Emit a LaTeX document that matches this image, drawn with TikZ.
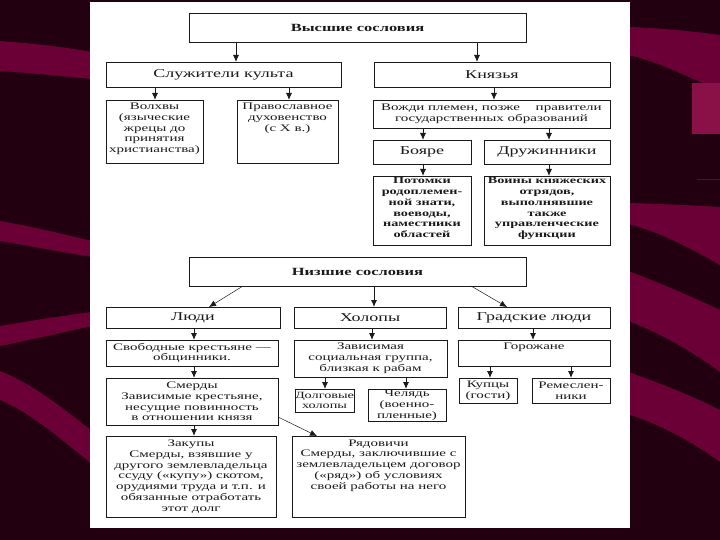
\documentclass[tikz,border=0pt]{standalone}
\usepackage{fontspec}
\setmainfont{Liberation Serif}[FakeStretch=1.5]
\usetikzlibrary{arrows.meta}
\definecolor{bgdark}{HTML}{230010}
\definecolor{bgpink}{HTML}{6B0036}
\definecolor{bgpinklt}{HTML}{8A1048}
\definecolor{ink}{HTML}{1A1A1A}
\newcommand\tb[5][t]{\parbox[c][#3][#1]{#2}{\centering\vspace*{#4}#5\par}}
\tikzset{
 bx/.style={draw=ink, line width=0.9pt, inner sep=0pt, outer sep=0pt, anchor=north west, text=ink},
 big/.style={font=\fontsize{12}{13}\selectfont},
 hd/.style={font=\bfseries\fontsize{11}{13}\selectfont},
 sm/.style={font=\fontsize{10}{10.8}\selectfont},
 tiny/.style={font=\fontsize{9.5}{10.5}\selectfont},
 smb/.style={font=\bfseries\fontsize{9.5}{10.8}\selectfont},
 arr/.style={draw=ink, line width=0.9pt, -{Latex[length=7pt,width=6pt]}},
 tarr/.style={draw=ink, line width=0.5pt, -{Latex[length=7pt,width=6pt]}},
}
\begin{document}
\begin{tikzpicture}[x=1pt,y=-1pt]
\useasboundingbox (0,0) rectangle (720,540);
% background
\fill[bgdark] (0,0) rectangle (720,540);
\fill[bgpink] (0,41) .. controls (40,44) and (70,48) .. (92,52) -- (92,79) .. controls (60,76) and (30,73) .. (0,71) -- cycle;
\fill[bgpink] (0,221) .. controls (40,228) and (70,236) .. (92,241) -- (92,257) .. controls (60,252) and (30,246) .. (0,241) -- cycle;
\fill[bgpink] (0,326) .. controls (30,321) and (60,316) .. (92,312) -- (92,326) .. controls (60,333) and (30,340) .. (0,346) -- cycle;
\fill[bgpink] (0,371) .. controls (35,385) and (65,410) .. (92,431) -- (92,464) .. controls (65,443) and (35,415) .. (0,400) -- cycle;
\fill[bgpink] (628,27) .. controls (660,28) and (690,31) .. (720,35) -- (720,91) .. controls (690,78) and (660,62) .. (628,55) -- cycle;
\fill[bgpinklt] (692,83) rectangle (720,134);
\draw[bgpink, line width=0.8pt] (697,179) -- (720,179);
\fill[bgpink] (628,203) .. controls (660,204) and (690,205) .. (720,207) -- (720,265) .. controls (690,248) and (660,232) .. (628,224) -- cycle;
\fill[bgpink] (628,271) .. controls (660,283) and (690,296) .. (720,310) -- (720,372) .. controls (690,350) and (660,333) .. (628,321) -- cycle;
\fill[bgpink] (628,372) .. controls (660,383) and (690,395) .. (720,410) -- (720,462) .. controls (690,440) and (660,425) .. (628,414) -- cycle;
\fill[white] (90,2) rectangle (630,528);

% boxes
\node[bx,hd] (vs) at (189,13) {\tb[c]{337pt}{29pt}{0pt}{Высшие сословия}};
\node[bx,big] (sk) at (106,62) {\tb[c]{235pt}{25pt}{0pt}{Служители культа}};
\node[bx,big] (kn) at (374,62) {\tb[c]{236pt}{25pt}{0pt}{Князья}};
\node[bx,sm] (vol) at (106,100) {\tb{97pt}{63pt}{3pt}{Волхвы\\(языческие\\жрецы до\\принятия\\христианства)}};
\node[bx,sm] (prav) at (237,100) {\tb{101pt}{63pt}{3pt}{Православное\\духовенство\\(с X в.)}};
\node[bx,sm] (vozh) at (373,100) {\tb[c]{237pt}{28pt}{0pt}{Вожди племен, позже\hspace{1.2em} правители\\государственных образований}};
\node[bx,big] (boy) at (373,140) {\tb[c]{98pt}{24pt}{0pt}{Бояре}};
\node[bx,big] (dru) at (484,140) {\tb[c]{126pt}{24pt}{0pt}{Дружинники}};
\node[bx,smb] (pot) at (373,176) {\tb{98pt}{69pt}{1.5pt}{Потомки\\родоплемен-\\ной знати,\\воеводы,\\наместники\\областей}};
\node[bx,smb] (voi) at (484,176) {\tb{126pt}{69pt}{1.5pt}{Воины княжеских\\отрядов,\\выполнявшие\\также\\управленческие\\функции}};

\node[bx,hd] (nz) at (189,257) {\tb[c]{337pt}{29pt}{0pt}{Низшие сословия}};
\node[bx,big] (lyu) at (106,307) {\tb[c]{174pt}{21pt}{0pt}{Люди}};
\node[bx,big] (hol) at (294,307) {\tb[c]{152pt}{21pt}{0pt}{Холопы}};
\node[bx,big] (grad) at (458,307) {\tb[c]{152pt}{21pt}{0pt}{Градские люди}};
\node[bx,sm] (svob) at (106,340) {\tb[c]{172pt}{26pt}{0pt}{Свободные крестьяне —\\общинники.}};
\node[bx,sm] (zav) at (294,340) {\tb[c]{153pt}{37pt}{0pt}{Зависимая\\социальная группа,\\близкая к рабам}};
\node[bx,sm] (gor) at (458,340) {\tb{152pt}{26pt}{3pt}{Горожане}};
\node[bx,sm] (smer) at (106,378) {\tb[c]{172pt}{47pt}{0pt}{Смерды\\Зависимые крестьяне,\\несущие повинность\\в отношении князя}};
\node[bx,tiny] (dol) at (295,389) {\tb[c]{59pt}{23pt}{0pt}{Долговые\\холопы}};
\node[bx,sm] (chel) at (368,389) {\tb[c]{78pt}{32pt}{0pt}{Челядь\\(военно-\\пленные)}};
\node[bx,sm] (kup) at (459,378) {\tb[c]{58pt}{25pt}{0pt}{Купцы\\(гости)}};
\node[bx,sm] (rem) at (532,378) {\tb[c]{78pt}{25pt}{0pt}{Ремеслен-\\ники}};
\node[bx,sm] (zak) at (106,436) {\tb[c]{170pt}{81pt}{0pt}{Закупы\\Смерды, взявшие у\\другого землевладельца\\ссуду («купу») скотом,\\орудиями труда и т.п. и\\обязанные отработать\\этот долг}};
\node[bx,sm] (ryad) at (292,436) {\tb{173pt}{81pt}{3.5pt}{Рядовичи\\Смерды, заключившие с\\землевладельцем договор\\(«ряд») об условиях\\своей работы на него}};

% arrows
\draw[arr] (236,0 |- vs.south) -- (236,0 |- sk.north);
\draw[arr] (477,0 |- vs.south) -- (477,0 |- kn.north);
\draw[arr] (155,0 |- sk.south) -- (155,0 |- vol.north);
\draw[arr] (289,0 |- sk.south) -- (289,0 |- prav.north);
\draw[arr] (494,0 |- kn.south) -- (494,0 |- vozh.north);
\draw[arr] (423,0 |- vozh.south) -- (423,0 |- boy.north);
\draw[arr] (549,0 |- vozh.south) -- (549,0 |- dru.north);
\draw[arr] (423,0 |- boy.south) -- (423,0 |- pot.north);
\draw[arr] (549,0 |- dru.south) -- (549,0 |- voi.north);
\draw[tarr] (243,0 |- nz.south) -- (209,0 |- lyu.north);
\draw[arr] (374,0 |- nz.south) -- (374,0 |- hol.north);
\draw[tarr] (471,0 |- nz.south) -- (507,0 |- grad.north);
\draw[arr] (194,0 |- lyu.south) -- (194,0 |- svob.north);
\draw[arr] (372,0 |- hol.south) -- (372,0 |- zav.north);
\draw[arr] (533,0 |- grad.south) -- (533,0 |- gor.north);
\draw[arr] (194,0 |- svob.south) -- (194,0 |- smer.north);
\draw[arr] (325,0 |- zav.south) -- (325,0 |- dol.north);
\draw[arr] (406,0 |- zav.south) -- (406,0 |- chel.north);
\draw[arr] (490,0 |- gor.south) -- (490,0 |- kup.north);
\draw[arr] (571,0 |- gor.south) -- (571,0 |- rem.north);
\draw[arr] (194,0 |- smer.south) -- (194,0 |- zak.north);
\draw[tarr] (smer.east |- 0,417) -- (317,0 |- ryad.north);
\end{tikzpicture}
\end{document}
